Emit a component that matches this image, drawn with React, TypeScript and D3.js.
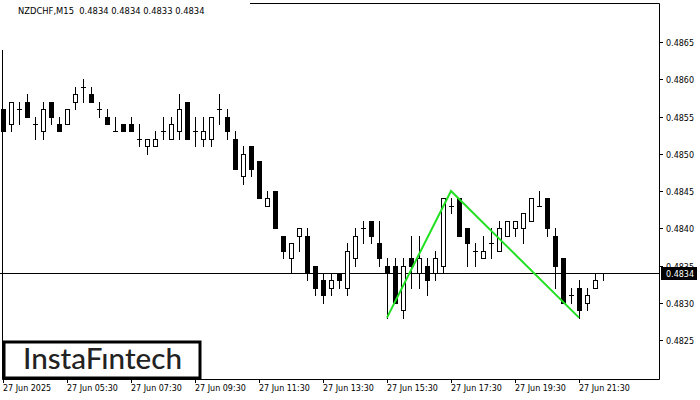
import { useEffect, useRef } from "react";
import * as d3 from "d3";

// NZDCHF M15 bars, 27 Jun 03:30 .. 22:15
const opens = [
  0.4856, 0.4854, 0.4856, 0.4857, 0.4854, 0.4853, 0.4857, 0.4854, 0.4854, 0.4857,
  0.4859, 0.4858, 0.4856, 0.4855, 0.4853, 0.4854, 0.4854, 0.4852, 0.4851, 0.4851,
  0.4853, 0.4852, 0.4853, 0.4857, 0.4853, 0.4852, 0.4852, 0.4856, 0.4855, 0.4852,
  0.4847, 0.4851, 0.4849, 0.4843, 0.4845, 0.4839, 0.4836, 0.4839, 0.4839, 0.4835,
  0.4833, 0.4832, 0.4834, 0.4832, 0.4836, 0.484, 0.4841, 0.4838, 0.4835, 0.4835,
  0.4829, 0.4836, 0.4834, 0.4835, 0.4834, 0.4835, 0.4843, 0.4844, 0.484, 0.4837,
  0.4836, 0.4838, 0.4837, 0.4839, 0.484, 0.484, 0.4841, 0.4843, 0.4844, 0.4839,
  0.4836, 0.4831, 0.4832, 0.483, 0.4832, 0.4834,
];
const highs = [
  0.4856, 0.4857, 0.4857, 0.4858, 0.4855, 0.4857, 0.4857, 0.4855, 0.4856, 0.4859,
  0.486, 0.4859, 0.4857, 0.4856, 0.4855, 0.4854, 0.4855, 0.4854, 0.4852, 0.4853,
  0.4855, 0.4855, 0.4858, 0.4857, 0.4855, 0.4855, 0.4855, 0.4858, 0.4856, 0.4853,
  0.4851, 0.4851, 0.4849, 0.4845, 0.4845, 0.4839, 0.4838, 0.484, 0.484, 0.4835,
  0.4834, 0.4834, 0.4834, 0.4838, 0.484, 0.4841, 0.4841, 0.4841, 0.4836, 0.4836,
  0.4836, 0.4839, 0.4839, 0.4836, 0.4837, 0.4844, 0.4844, 0.4844, 0.484, 0.4838,
  0.4839, 0.484, 0.4841, 0.4841, 0.4841, 0.4842, 0.4844, 0.4845, 0.4844, 0.484,
  0.4836, 0.4832, 0.4833, 0.4832, 0.4834, 0.4834,
];
const lows = [
  0.4853, 0.4853, 0.4854, 0.4855, 0.4852, 0.4852, 0.4854, 0.4853, 0.4854, 0.4856,
  0.4857, 0.4857, 0.4855, 0.4854, 0.4853, 0.4853, 0.4853, 0.4851, 0.485, 0.4851,
  0.4852, 0.4852, 0.4852, 0.4852, 0.4851, 0.4851, 0.4851, 0.4854, 0.4852, 0.4848,
  0.4846, 0.4847, 0.4844, 0.4843, 0.484, 0.4836, 0.4834, 0.4837, 0.4833, 0.4831,
  0.483, 0.4831, 0.4832, 0.4831, 0.4835, 0.4838, 0.4838, 0.4835, 0.4828, 0.483,
  0.4828, 0.4832, 0.4832, 0.4831, 0.4833, 0.4834, 0.4842, 0.4839, 0.4835, 0.4835,
  0.4836, 0.4836, 0.4837, 0.4839, 0.4839, 0.4838, 0.4841, 0.4843, 0.4839, 0.4832,
  0.483, 0.483, 0.4828, 0.4829, 0.4832, 0.4833,
];
const closes = [
  0.4853, 0.4857, 0.4856, 0.4855, 0.4854, 0.4856, 0.4855, 0.4853, 0.4856, 0.4858,
  0.4859, 0.4857, 0.4856, 0.4854, 0.4853, 0.4853, 0.4853, 0.4852, 0.4852, 0.4852,
  0.4853, 0.4854, 0.4856, 0.4852, 0.4853, 0.4853, 0.4855, 0.4856, 0.4853, 0.4848,
  0.485, 0.4848, 0.4844, 0.4844, 0.484, 0.4837, 0.4838, 0.484, 0.4834, 0.4832,
  0.4831, 0.4833, 0.4833, 0.4837, 0.4839, 0.484, 0.4839, 0.4836, 0.4834, 0.483,
  0.4835, 0.4835, 0.4836, 0.4833, 0.4836, 0.4844, 0.4843, 0.4839, 0.4838, 0.4837,
  0.4837, 0.4838, 0.484, 0.4841, 0.4841, 0.4842, 0.4844, 0.4843, 0.484, 0.4835,
  0.483, 0.4831, 0.4829, 0.4831, 0.4833, 0.4834,
];

// double bottom pattern: bar index / price
const patternBars = [48, 56, 72];
const patternPrices = [0.4828, 0.4845, 0.4828];

const priceTicks = [0.4825, 0.483, 0.4835, 0.484, 0.4845, 0.485, 0.4855, 0.486, 0.4865];
const timeTickBars = [0, 8, 16, 24, 32, 40, 48, 56, 64, 72];
const timeTickLabels = [
  "27 Jun 2025", "27 Jun 05:30", "27 Jun 07:30", "27 Jun 09:30", "27 Jun 11:30",
  "27 Jun 13:30", "27 Jun 15:30", "27 Jun 17:30", "27 Jun 19:30", "27 Jun 21:30",
];
const lastPrice = 0.4834;

const App = () => {
  const svgRef = useRef<SVGSVGElement | null>(null);

  useEffect(() => {
    if (!svgRef.current) return;
    const width = 700;
    const height = 400;
    const right = 659;
    const bottom = 379;
    const font = "DejaVu Sans, sans-serif";

    const svg = d3.select(svgRef.current);
    svg.selectAll("*").remove();
    svg.attr("width", width).attr("height", height);

    svg.append("rect").attr("width", width).attr("height", height).attr("fill", "#fff");

    const x = d3.scaleLinear().domain([0, 75]).range([3, 603]);
    const y = d3.scaleLinear().domain([0.4825, 0.4865]).range([340, 42]);
    const py = (v: number) => Math.round(y(v));

    // frame
    svg
      .append("path")
      .attr("d", `M2.5,50 V${bottom + 0.5} H${right + 0.5} V3.5 H250`)
      .attr("fill", "none")
      .attr("stroke", "#000")
      .attr("stroke-width", 1);

    // current price line
    svg
      .append("line")
      .attr("x1", 0)
      .attr("x2", right)
      .attr("y1", py(lastPrice) + 0.5)
      .attr("y2", py(lastPrice) + 0.5)
      .attr("stroke", "#000");

    const bars = d3.range(opens.length).map((i) => ({
      i,
      o: opens[i],
      h: highs[i],
      l: lows[i],
      c: closes[i],
    }));

    const g = svg.append("g");
    bars.forEach((d) => {
      const cx = Math.round(x(d.i));
      g.append("line")
        .attr("x1", cx + 0.5)
        .attr("x2", cx + 0.5)
        .attr("y1", py(d.h))
        .attr("y2", py(d.l) + 1)
        .attr("stroke", "#000");
      const yo = py(d.o);
      const yc = py(d.c);
      if (yo === yc) {
        g.append("line")
          .attr("x1", cx - 2)
          .attr("x2", cx + 3)
          .attr("y1", yo + 0.5)
          .attr("y2", yo + 0.5)
          .attr("stroke", "#000");
      } else if (d.c < d.o) {
        g.append("rect")
          .attr("x", cx - 2)
          .attr("y", yo)
          .attr("width", 5)
          .attr("height", yc - yo + 1)
          .attr("fill", "#000");
      } else {
        g.append("rect")
          .attr("x", cx - 1.5)
          .attr("y", yc + 0.5)
          .attr("width", 4)
          .attr("height", yo - yc)
          .attr("fill", "#fff")
          .attr("stroke", "#000");
      }
    });

    // pattern
    const line = d3
      .line<number>()
      .x((_, k) => x(patternBars[k]))
      .y((v) => y(v));
    svg
      .append("path")
      .attr("d", line(patternPrices))
      .attr("fill", "none")
      .attr("stroke", "#22e022")
      .attr("stroke-width", 2);

    // price axis
    priceTicks.forEach((t) => {
      const ty = py(t);
      svg
        .append("line")
        .attr("x1", right)
        .attr("x2", right + 4)
        .attr("y1", ty + 0.5)
        .attr("y2", ty + 0.5)
        .attr("stroke", "#000");
      svg
        .append("text")
        .attr("x", 666)
        .attr("y", ty + 3.5)
        .attr("font-family", font)
        .attr("font-size", 8)
        .attr("fill", "#000")
        .text(t.toFixed(4));
    });

    const ly = py(lastPrice);
    svg
      .append("rect")
      .attr("x", 661)
      .attr("y", ly - 6)
      .attr("width", 36)
      .attr("height", 13)
      .attr("fill", "#000");
    svg
      .append("text")
      .attr("x", 666)
      .attr("y", ly + 3.5)
      .attr("font-family", font)
      .attr("font-size", 8)
      .attr("fill", "#fff")
      .text(lastPrice.toFixed(4));

    // time axis
    timeTickBars.forEach((b, k) => {
      const tx = Math.round(x(b));
      svg
        .append("line")
        .attr("x1", tx + 0.5)
        .attr("x2", tx + 0.5)
        .attr("y1", bottom)
        .attr("y2", bottom + 4)
        .attr("stroke", "#000");
      svg
        .append("text")
        .attr("x", tx)
        .attr("y", 391)
        .attr("font-family", font)
        .attr("font-size", 8)
        .attr("fill", "#000")
        .text(timeTickLabels[k]);
    });

    // header
    svg
      .append("text")
      .attr("x", 18)
      .attr("y", 14)
      .attr("font-family", font)
      .attr("font-size", 8.4)
      .attr("fill", "#000")
      .attr("xml:space", "preserve")
      .text(
        `NZDCHF,M15  ${opens[75].toFixed(4)} ${highs[75].toFixed(4)} ${lows[75].toFixed(4)} ${closes[75].toFixed(4)}`
      );

    // logo
    svg
      .append("rect")
      .attr("x", 4)
      .attr("y", 342)
      .attr("width", 196)
      .attr("height", 36)
      .attr("fill", "#fff")
      .attr("stroke", "#000")
      .attr("stroke-width", 3);
    svg
      .append("text")
      .attr("x", 23)
      .attr("y", 369)
      .attr("font-family", "Lato, sans-serif")
      .attr("font-size", 28)
      .attr("font-weight", 500)
      .attr("fill", "#222")
      .attr("textLength", 159)
      .attr("lengthAdjust", "spacingAndGlyphs")
      .text("InstaFıntech");
  }, []);

  return (
    <svg
      ref={svgRef}
      style={{ position: "absolute", left: 0, top: 0, display: "block" }}
    ></svg>
  );
};

export default App;
